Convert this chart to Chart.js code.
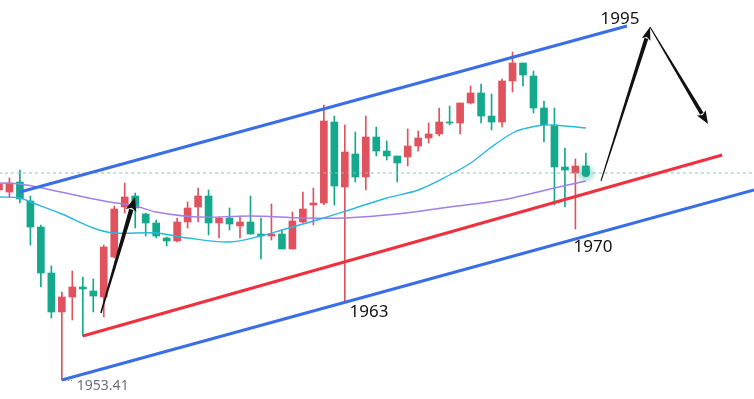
<!DOCTYPE html>
<html>
<head>
<title>Index candles</title>
<style>
    body { margin: 0; background: #fff; font-family: "Noto Sans", Arial, sans-serif; }
    #wrap { width: 754px; height: 399px; }
</style>
<script src="https://cdn.jsdelivr.net/npm/chart.js"></script>
</head>
<body>
<div id="wrap"><canvas id="chart"></canvas></div>
<script>
// candles, one per bar index 0..56
var opens  = [1976.21,1975.97,1977.17,1974.89,1971.77,1966.25,1961.57,1963.37,1964.57,1964.09,
              1963.37,1968.17,1974.17,1975.49,1973.33,1972.25,1970.45,1970.09,1972.37,1974.17,
              1975.49,1972.25,1972.85,1971.89,1972.37,1970.93,1970.69,1970.93,1969.13,1972.37,
              1974.41,1974.65,1984.37,1976.57,1980.53,1977.77,1982.57,1980.89,1980.29,1980.17,
              1981.49,1982.45,1982.93,1984.37,1984.25,1986.65,1987.85,1985.09,1984.37,1989.29,
              1991.45,1989.89,1986.05,1984.01,1978.97,1978.25,1979.09];
var highs  = [1977.29,1977.65,1978.61,1975.49,1972.01,1967.09,1963.97,1966.49,1965.77,1965.53,
              1969.61,1974.29,1977.05,1975.85,1973.45,1972.61,1970.57,1972.85,1974.77,1976.45,
              1976.21,1972.97,1974.05,1973.09,1975.49,1972.85,1974.53,1971.41,1973.57,1975.97,
              1976.45,1986.41,1985.09,1984.01,1983.17,1985.09,1983.77,1982.09,1980.29,1983.53,
              1983.29,1984.25,1986.05,1986.29,1986.65,1988.69,1988.93,1987.73,1989.53,1992.77,
              1991.45,1990.49,1986.89,1986.05,1981.25,1979.93,1980.65];
var lows   = [1975.73,1975.37,1974.65,1969.61,1964.57,1960.85,1953.41,1960.61,1958.69,1961.57,
              1960.97,1968.05,1973.45,1971.65,1970.69,1970.45,1969.49,1969.97,1971.65,1972.37,
              1970.81,1970.45,1971.41,1970.45,1970.93,1967.93,1970.21,1969.13,1969.13,1972.25,
              1972.01,1974.41,1974.41,1962.77,1977.17,1976.21,1980.29,1979.81,1977.17,1979.09,
              1980.89,1981.85,1982.69,1984.01,1982.93,1986.53,1984.25,1983.41,1983.77,1987.97,
              1988.69,1985.45,1981.97,1974.41,1974.17,1971.53,1978.25];
var closes = [1976.93,1977.05,1975.13,1971.77,1966.25,1961.57,1963.37,1964.57,1964.33,1963.49,
              1969.37,1973.93,1975.37,1974.05,1972.25,1970.69,1970.09,1972.37,1974.05,1975.49,
              1972.25,1972.85,1972.13,1972.37,1970.93,1970.69,1970.93,1969.13,1972.49,1973.93,
              1974.65,1984.49,1976.69,1980.77,1977.77,1982.57,1980.89,1980.29,1979.45,1981.49,
              1982.45,1982.93,1984.37,1984.25,1986.65,1987.85,1985.09,1984.37,1989.29,1991.45,
              1990.01,1986.05,1984.01,1978.97,1978.61,1979.09,1978.25];

// moving averages read at some bar indexes
var maFastIdx = [0,2,3,6,9,11,15,18,22,25,27,29,31,34,37,40,43,45,47,49,50,52,54,56];
var maFast    = [1975.37,1975.25,1974.77,1973.33,1971.65,1971.05,1971.05,1970.45,1969.97,1970.69,1971.41,1972.13,
                 1972.85,1974.05,1975.25,1976.21,1978.01,1979.45,1981.37,1983.05,1983.53,1984.01,1983.89,1983.65];
var maSlowIdx = [0,2,5,10,13,15,19,24,29,33,38,43,48,51,53,56];
var maSlow    = [1977.05,1976.93,1976.21,1974.89,1974.29,1973.57,1972.97,1973.09,1972.85,1972.85,1973.33,
                 1974.17,1975.01,1975.85,1976.45,1977.29];

// drawn lines [bar index, price]
var upperChannel = [[2, 1975.97], [59.92, 1995.89]];
var lowerChannel = [[6, 1953.41], [72.04, 1976.21]];
var supportLine  = [[8, 1958.69], [69, 1980.41]];
var lastPrice = 1978.25;

// arrows [from, to]
var arrows = [
    [[9.73, 1961.45], [12.98, 1975.37]],
    [[57.44, 1977.29], [62.12, 1995.77]],
    [[62.12, 1995.77], [67.65, 1984.13]]
];

var labelTexts = ["1995", "1963", "1970"];
var labelPos = [[59.26, 1996.73], [35.3, 1961.57], [56.68, 1969.37]];
var lowText = "1953.41";
var lowPos = [6, 1953.41];

var UP = "#e0525e", DOWN = "#14a98c";

var bodies = [], wicks = [], colors = [];
for (var i = 0; i < opens.length; i++) {
    bodies.push({ x: i, y: [opens[i], closes[i]] });
    wicks.push({ x: i, y: [lows[i], highs[i]] });
    colors.push(closes[i] >= opens[i] ? UP : DOWN);
}

function pts(xs, ys) {
    return xs.map(function (x, k) { return { x: x, y: ys[k] }; });
}
function seg(p) {
    return p.map(function (q) { return { x: q[0], y: q[1] }; });
}

function lineSet(data, color, width, dash) {
    return {
        type: 'line', data: data, borderColor: color, borderWidth: width,
        borderDash: dash || [], pointRadius: 0, fill: false, tension: 0.35, order: 0
    };
}

// taper arrow: shaft goes from width w1 to w2, then a filled head
function drawArrow(ctx, x1, y1, x2, y2, w1, w2, headLen, headW) {
    var ang = Math.atan2(y2 - y1, x2 - x1);
    var len = Math.hypot(x2 - x1, y2 - y1);
    ctx.save();
    ctx.translate(x1, y1);
    ctx.rotate(ang);
    ctx.fillStyle = "#111";
    ctx.beginPath();
    ctx.moveTo(0, -w1 / 2);
    ctx.lineTo(len - headLen + 1, -w2 / 2);
    ctx.lineTo(len - headLen + 1, w2 / 2);
    ctx.lineTo(0, w1 / 2);
    ctx.closePath();
    ctx.fill();
    ctx.beginPath();
    ctx.moveTo(len, 0);
    ctx.lineTo(len - headLen, -headW / 2);
    ctx.lineTo(len - headLen * 0.8, 0);
    ctx.lineTo(len - headLen, headW / 2);
    ctx.closePath();
    ctx.fill();
    ctx.restore();
}

var overlay = {
    id: 'overlay',
    afterDatasetsDraw: function (chart) {
        var ctx = chart.ctx, xs = chart.scales.x, ys = chart.scales.y;
        function P(p) { return [xs.getPixelForValue(p[0]), ys.getPixelForValue(p[1])]; }

        // live price dot
        var d = P([opens.length - 1, lastPrice]);
        var g = ctx.createRadialGradient(d[0], d[1], 2, d[0], d[1], 11);
        g.addColorStop(0, "rgba(20,169,140,0.45)");
        g.addColorStop(1, "rgba(20,169,140,0)");
        ctx.fillStyle = g;
        ctx.beginPath(); ctx.arc(d[0], d[1], 11, 0, Math.PI * 2); ctx.fill();
        ctx.fillStyle = DOWN;
        ctx.beginPath(); ctx.arc(d[0], d[1], 4, 0, Math.PI * 2); ctx.fill();

        var a = P(arrows[0][0]), b = P(arrows[0][1]);
        drawArrow(ctx, a[0], a[1], b[0], b[1], 1.5, 4.5, 14, 11);
        a = P(arrows[1][0]); b = P(arrows[1][1]);
        drawArrow(ctx, a[0], a[1], b[0], b[1], 1, 4, 13, 9);
        a = P(arrows[2][0]); b = P(arrows[2][1]);
        drawArrow(ctx, a[0], a[1], b[0], b[1], 1, 4, 13, 10);

        ctx.save();
        ctx.font = '17px "Noto Sans", Arial, sans-serif';
        ctx.fillStyle = "#111";
        ctx.textAlign = "center";
        ctx.textBaseline = "middle";
        labelTexts.forEach(function (t, k) {
            var p = P(labelPos[k]);
            ctx.fillText(t, p[0], p[1]);
        });
        var lp = P(lowPos);
        ctx.strokeStyle = "#707080";
        ctx.lineWidth = 1;
        ctx.setLineDash([1, 2]);
        ctx.beginPath(); ctx.moveTo(lp[0], lp[1] + 0.5); ctx.lineTo(lp[0] + 12, lp[1] + 0.5); ctx.stroke();
        ctx.font = '14px "Noto Sans", Arial, sans-serif';
        ctx.fillStyle = "#6e6e7c";
        ctx.textAlign = "left";
        ctx.fillText(lowText, lp[0] + 15, lp[1] + 6);
        ctx.restore();
    }
};

new Chart(document.getElementById('chart'), {
    type: 'bar',
    data: {
        datasets: [
            lineSet(seg(upperChannel), "#3a6ee8", 3),
            lineSet(seg(lowerChannel), "#3a6ee8", 3),
            lineSet(seg(supportLine), "#f0303e", 3),
            lineSet(pts(maFastIdx, maFast), "#2ab8dc", 1.4),
            lineSet(pts(maSlowIdx, maSlow), "#a17fe6", 1.4),
            lineSet([{ x: 0, y: lastPrice }, { x: 72.04, y: lastPrice }], "#88c4bb", 1, [3, 3]),
            { type: 'bar', data: bodies, backgroundColor: colors, barThickness: 7, grouped: false, order: 1 },
            { type: 'bar', data: wicks, backgroundColor: colors, barThickness: 1, grouped: false, order: 2 }
        ]
    },
    options: {
        responsive: true,
        maintainAspectRatio: false,
        animation: false,
        layout: { padding: 0 },
        plugins: { legend: { display: false }, tooltip: { enabled: false } },
        scales: {
            x: { type: 'linear', min: 0.1, max: 72.04, offset: false, display: false },
            y: { type: 'linear', min: 1951.13, max: 1999.01, display: false }
        }
    },
    plugins: [overlay]
});
</script>
</body>
</html>
